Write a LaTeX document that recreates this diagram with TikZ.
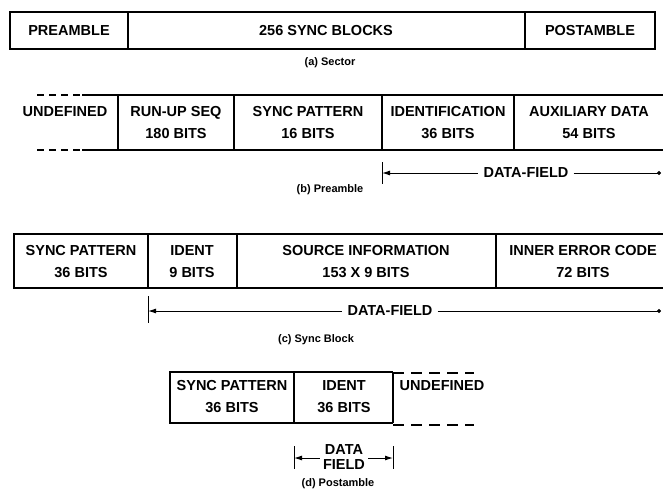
\documentclass[tikz,border=0pt]{standalone}
\usepackage{fontspec}
\setmainfont{Liberation Sans}
\usetikzlibrary{arrows.meta}
\begin{document}
\begin{tikzpicture}[x=1pt,y=-1pt,
  frame/.style={line width=1.2pt},
  dashline/.style={line width=1.2pt, dash pattern=on 7pt off 5pt},
  dashlong/.style={line width=1.2pt, dash pattern=on 11pt off 7pt},
  lbl/.style={font=\fontsize{14.5}{22}\selectfont\bfseries, inner sep=0pt, align=center},
  dflbl/.style={font=\fontsize{14.5}{15}\selectfont\bfseries, inner sep=0pt, align=center},
  captxt/.style={font=\fontsize{11}{12}\selectfont\bfseries, inner sep=0pt},
  dim/.style={line width=1pt},
  tickline/.style={line width=1pt},
  lhead/.style={{Latex[length=8pt,width=5pt]}-},
  rhead/.style={-{Latex[length=8pt,width=5pt]}},
  dothead/.style={-{Circle[length=4pt]}}]
\useasboundingbox (0,0) rectangle (663,496);

% ---------------- (a) Sector ----------------
\draw[frame] (10,12) rectangle (655,49);
\draw[frame] (128,12) -- (128,49);
\draw[frame] (525,12) -- (525,49);
\node[lbl] (apre)  at (69,30.5)  {PREAMBLE};
\node[lbl] (async) at (326,30.5) {256 SYNC BLOCKS};
\node[lbl] (apost) at (590,30.5) {POSTAMBLE};
\node[captxt] (acap)  at (330,63) {(a) Sector};

% ---------------- (b) Preamble ----------------
\draw[dashline] (37,95) -- (82,95);
\draw[frame] (82,95) -- (663,95);
\draw[dashline] (37,150) -- (82,150);
\draw[frame] (82,150) -- (663,150);
\foreach \x in {118,234,382,514} \draw[frame] (\x,95) -- (\x,150);
\node[lbl] (bund)  at (65,112)  {UNDEFINED};
\node[lbl] (brun)  at (176,123) {RUN-UP SEQ\\180 BITS};
\node[lbl] (bsync) at (308,123) {SYNC PATTERN\\16 BITS};
\node[lbl] (bid)   at (448,123) {IDENTIFICATION\\36 BITS};
\node[lbl] (baux)  at (589,123) {AUXILIARY DATA\\54 BITS};
\coordinate (bt1) at (382,162);
\coordinate (bt2) at (382,184);
\draw[tickline] (bt1) -- (bt2);
\coordinate (bl) at (382,173);
\coordinate (br) at (661,173);
\node[lbl] (bdf) at (526,173) {DATA-FIELD};
\draw[dim,lhead] (bl) -- ([xshift=-5pt]bdf.west);
\draw[dim,dothead] ([xshift=5pt]bdf.east) -- (br);
\node[captxt] (bcap) at (330,190) {(b) Preamble};

% ---------------- (c) Sync Block ----------------
\draw[frame] (663,234) -- (14,234) -- (14,288) -- (663,288);
\foreach \x in {148,237,496} \draw[frame] (\x,234) -- (\x,288);
\node[lbl] (csync) at (81,262)  {SYNC PATTERN\\36 BITS};
\node[lbl] (cid)   at (192,262) {IDENT\\9 BITS};
\node[lbl] (csrc)  at (366,262) {SOURCE INFORMATION\\153 X 9 BITS};
\node[lbl] (cinn)  at (583,262) {INNER ERROR CODE\\72 BITS};
\coordinate (ct1) at (148,296);
\coordinate (ct2) at (148,323);
\draw[tickline] (ct1) -- (ct2);
\coordinate (cl) at (148,311);
\coordinate (cr) at (661,311);
\node[lbl] (cdf) at (390,311) {DATA-FIELD};
\draw[dim,lhead] (cl) -- ([xshift=-5pt]cdf.west);
\draw[dim,dothead] ([xshift=5pt]cdf.east) -- (cr);
\node[captxt] (ccap) at (316,340) {(c) Sync Block};

% ---------------- (d) Postamble ----------------
\draw[frame] (393,372) -- (170,372) -- (170,423) -- (393,423);
\foreach \x in {294,393} \draw[frame] (\x,372) -- (\x,423);
\draw[dashlong] (393,373) -- (474,373);
\draw[dashlong] (393,425) -- (474,425);
\node[lbl] (dsync) at (232,397) {SYNC PATTERN\\36 BITS};
\node[lbl] (did)   at (344,397) {IDENT\\36 BITS};
\node[lbl] (dund)  at (442,386) {UNDEFINED};
\coordinate (dt1) at (294,446);
\coordinate (dt2) at (294,469);
\coordinate (dt3) at (393,446);
\coordinate (dt4) at (393,469);
\draw[tickline] (dt1) -- (dt2);
\draw[tickline] (dt3) -- (dt4);
\node[dflbl] (ddf) at (344,457) {DATA\\FIELD};
\coordinate (dl) at (294,458);
\coordinate (dr) at (393,458);
\draw[dim,lhead] (dl) -- ([xshift=-3pt]ddf.west |- dl);
\draw[dim,rhead] ([xshift=3pt]ddf.east |- dr) -- (dr);
\node[captxt] (dcap) at (338,484) {(d) Postamble};
\end{tikzpicture}
\end{document}
